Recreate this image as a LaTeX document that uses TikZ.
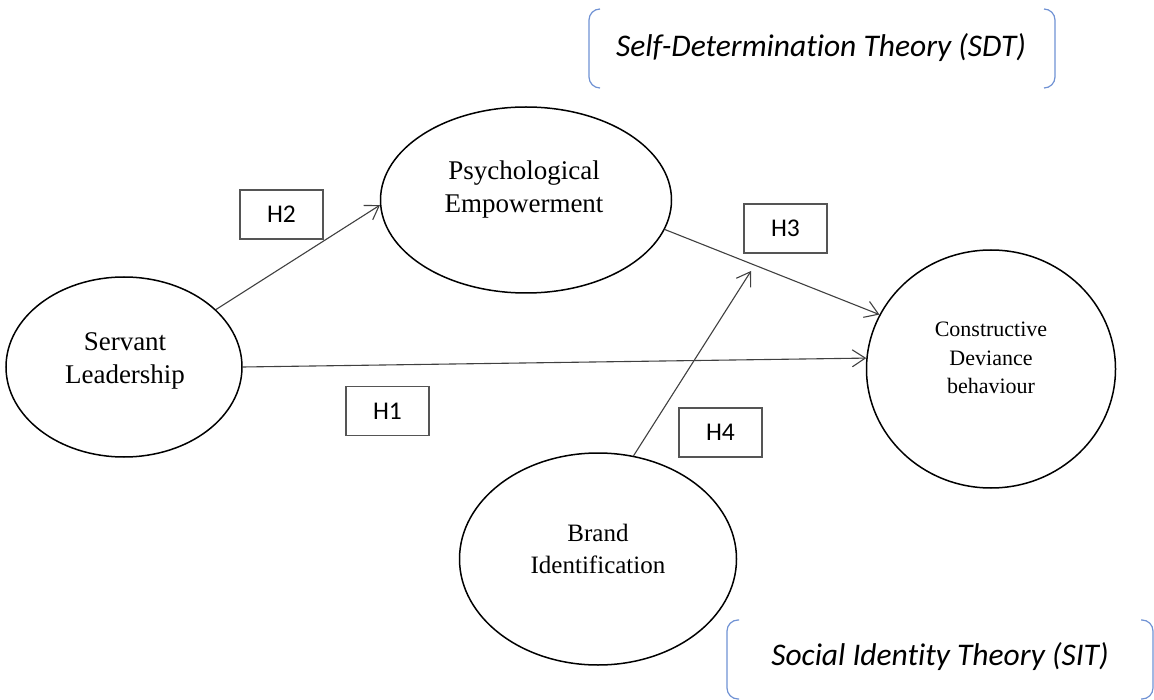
\documentclass[tikz,border=0pt]{standalone}
\usepackage{fontspec}
\setmainfont{Liberation Serif}
\newfontfamily\calibri[Ligatures=NoCommon]{Carlito}
\usetikzlibrary{arrows.meta,shapes.geometric}
\definecolor{bracketblue}{RGB}{112,146,212}
\definecolor{linkgray}{RGB}{64,64,64}
\definecolor{boxgray}{RGB}{85,85,85}

\begin{document}
\begin{tikzpicture}[x=1pt,y=-1pt]
\tikzset{
  construct/.style={ellipse, draw=black, line width=1.5pt, inner sep=0pt},
  lbl/.style={align=center, inner sep=0pt, font=\fontsize{27}{33}\selectfont},
  hyp/.style={draw=boxgray, line width=1.2pt, minimum width=83pt, minimum height=49pt,
              inner sep=0pt, font=\calibri\fontsize{25.5}{30}\selectfont},
  link/.style={draw=linkgray, line width=1.1pt,
               -{Straight Barb[length=13pt,width=17pt,line width=1.1pt]}},
  theory/.style={draw=bracketblue, line width=1.2pt, rounded corners=11pt},
  theorytext/.style={inner sep=0pt, font=\calibri\itshape\fontsize{31.5}{36}\selectfont}
}
\fill[white] (0,0) rectangle (1154,700);
\useasboundingbox (0,0) rectangle (1154,700);

% theory brackets
\node[theorytext] (sdt) at (821,48) {Self-Determination Theory (SDT)};
\draw[theory] (600,9) -- (589,9) -- (589,88) -- (600,88);
\draw[theory] (1044,9) -- (1055,9) -- (1055,88) -- (1044,88);

\node[theorytext] (sit) at (940,657) {Social Identity Theory (SIT)};
\draw[theory] (739,620) -- (727,620) -- (727,699) -- (739,699);
\draw[theory] (1141,620) -- (1153,620) -- (1153,699) -- (1141,699);

% constructs
\node[construct, minimum width=291pt, minimum height=186pt] (pe) at (526,200) {};
\node[construct, minimum width=236pt, minimum height=180pt] (sl) at (124,367) {};
\node[construct, minimum width=249pt, minimum height=238pt] (cd) at (991,369) {};
\node[construct, minimum width=277pt, minimum height=212pt] (bi) at (598,559) {};

\node[lbl] (pet) at (524,190) {Psychological\\Empowerment};
\node[lbl] (slt) at (125,361) {Servant\\Leadership};
\node[lbl, font=\fontsize{25}{32}\selectfont] (bit) at (598,549) {Brand\\Identification};
\node[lbl, font=\fontsize{22}{28.5}\selectfont] (cdt) at (991,358) {Constructive\\Deviance\\behaviour};

% hypothesis labels
\node[hyp] (h2) at (281.5,214.5) {H2};
\node[hyp] (h3) at (785.5,228.5) {H3};
\node[hyp] (h1) at (387.5,411) {H1};
\node[hyp] (h4) at (720.5,432.5) {H4};

% paths
\draw[link] (sl.32) -- (pe.182);
\draw[link] (pe.-12) -- (cd.154);
\draw[link] (sl.0) -- (cd.175);
\coordinate (mod) at (751,271);
\draw[link] (bi.71) -- (mod);
\end{tikzpicture}
\end{document}
